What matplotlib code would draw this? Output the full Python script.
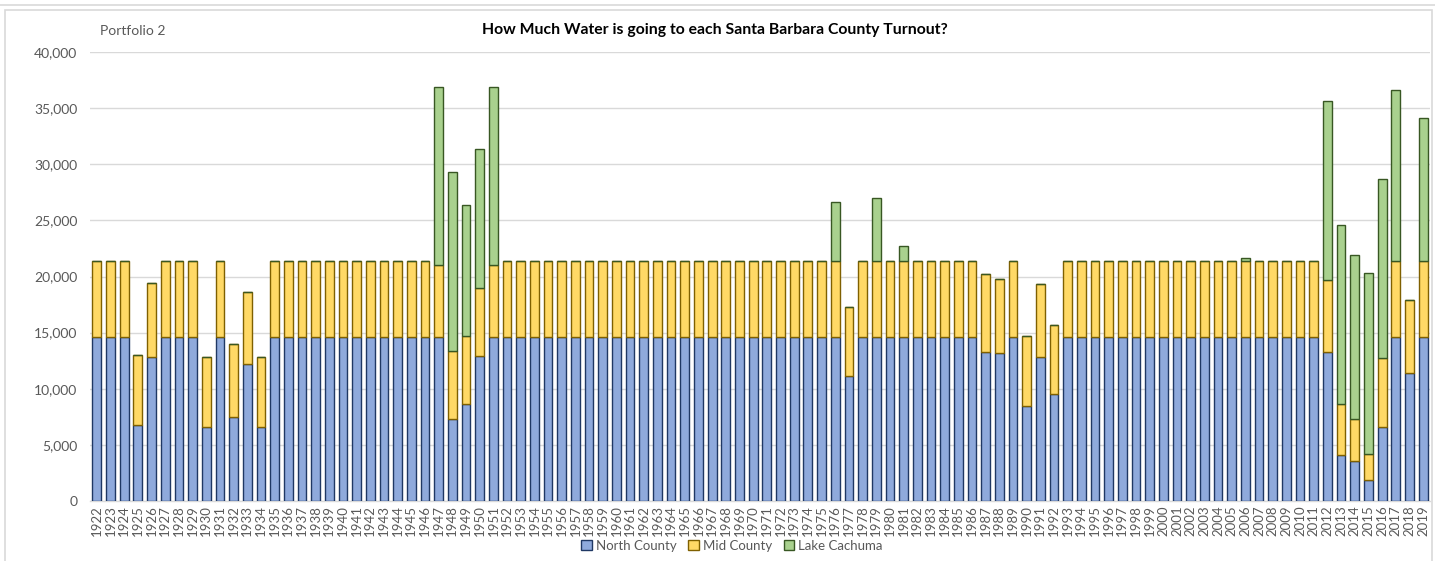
import numpy as np
import matplotlib
matplotlib.use("Agg")
import matplotlib.pyplot as plt
from matplotlib.patches import Patch, Rectangle
from matplotlib.ticker import FuncFormatter

# Water deliveries per turnout, 1922-2019
years = [str(y) for y in range(1922, 2020)]

north_county = [
    14600, 14600, 14600, 6800, 12800, 14600, 14600, 14600, 6600, 14600,   # 1922-1931
    7500, 12200, 6600, 14600, 14600, 14600, 14600, 14600, 14600, 14600,   # 1932-1941
    14600, 14600, 14600, 14600, 14600, 14600, 7300, 8600, 12900, 14600,   # 1942-1951
    14600, 14600, 14600, 14600, 14600, 14600, 14600, 14600, 14600, 14600, # 1952-1961
    14600, 14600, 14600, 14600, 14600, 14600, 14600, 14600, 14600, 14600, # 1962-1971
    14600, 14600, 14600, 14600, 14600, 11100, 14600, 14600, 14600, 14600, # 1972-1981
    14600, 14600, 14600, 14600, 14600, 13300, 13200, 14600, 8500, 12800,  # 1982-1991
    9500, 14600, 14600, 14600, 14600, 14600, 14600, 14600, 14600, 14600,  # 1992-2001
    14600, 14600, 14600, 14600, 14600, 14600, 14600, 14600, 14600, 14600, # 2002-2011
    13300, 4100, 3600, 1900, 6600, 14600, 11400, 14600,                   # 2012-2019
]

mid_county = [
    6800, 6800, 6800, 6200, 6600, 6800, 6800, 6800, 6200, 6800,
    6500, 6400, 6200, 6800, 6800, 6800, 6800, 6800, 6800, 6800,
    6800, 6800, 6800, 6800, 6800, 6400, 6100, 6100, 6100, 6400,
    6800, 6800, 6800, 6800, 6800, 6800, 6800, 6800, 6800, 6800,
    6800, 6800, 6800, 6800, 6800, 6800, 6800, 6800, 6800, 6800,
    6800, 6800, 6800, 6800, 6800, 6200, 6800, 6800, 6800, 6800,
    6800, 6800, 6800, 6800, 6800, 6900, 6600, 6800, 6200, 6500,
    6200, 6800, 6800, 6800, 6800, 6800, 6800, 6800, 6800, 6800,
    6800, 6800, 6800, 6800, 6800, 6800, 6800, 6800, 6800, 6800,
    6400, 4500, 3700, 2300, 6100, 6800, 6500, 6800,
]

lake_cachuma = [
    0, 0, 0, 0, 0, 0, 0, 0, 0, 0,
    0, 0, 0, 0, 0, 0, 0, 0, 0, 0,
    0, 0, 0, 0, 0, 15900, 15900, 11700, 12400, 15900,
    0, 0, 0, 0, 0, 0, 0, 0, 0, 0,
    0, 0, 0, 0, 0, 0, 0, 0, 0, 0,
    0, 0, 0, 0, 5200, 0, 0, 5600, 0, 1300,
    0, 0, 0, 0, 0, 0, 0, 0, 0, 0,
    0, 0, 0, 0, 0, 0, 0, 0, 0, 0,
    0, 0, 0, 0, 250, 0, 0, 0, 0, 0,
    15900, 16000, 14600, 16100, 16000, 15200, 0, 12700,
]

series = [
    ("North County", north_county, "#8FAADC", "#1F3864"),
    ("Mid County", mid_county, "#FFD966", "#7F6000"),
    ("Lake Cachuma", lake_cachuma, "#A9D18E", "#385723"),
]

plt.rcParams['font.family'] = ['Lato', 'DejaVu Sans']
tick_gray = "#595959"
grid_gray = "#D9D9D9"

fig = plt.figure(figsize=(14.35, 5.61), dpi=100)
ax = fig.add_axes([90 / 1435, 1 - 501 / 561, 1340 / 1435, 449 / 561])

x = np.arange(len(years))
bottom = np.zeros(len(years))
for name, vals, fc, ec in series:
    vals = np.array(vals, dtype=float)
    ax.bar(x, vals, width=0.64, bottom=bottom, color=fc, edgecolor=ec,
           linewidth=1.0, label=name, zorder=3)
    bottom += vals

ax.set_xlim(-0.5, len(years) - 0.5)
ax.set_ylim(0, 40000)
ax.set_yticks(np.arange(0, 40001, 5000))
ax.yaxis.set_major_formatter(FuncFormatter(lambda v, p: f"{int(v):,}"))
ax.set_xticks(x)
ax.set_xticklabels(years, rotation=90, fontsize=9.5, color=tick_gray)
ax.tick_params(axis='y', labelsize=10, colors=tick_gray, length=0, pad=9)
ax.tick_params(axis='x', length=0, pad=3)
ax.grid(axis='y', color=grid_gray, linewidth=1.0, zorder=0)
for side in ['top', 'right', 'left']:
    ax.spines[side].set_visible(False)
ax.spines['bottom'].set_color(grid_gray)
ax.spines['bottom'].set_linewidth(1.0)

fig.text(715 / 1435, 1 - 30 / 561,
         "How Much Water is going to each Santa Barbara County Turnout?",
         ha='center', va='center', fontsize=11.3, fontweight='bold', color='black')
fig.text(100 / 1435, 1 - 31 / 561, "Portfolio 2", ha='left', va='center',
         fontsize=10, color=tick_gray)

handles = [Patch(facecolor=fc, edgecolor=ec, label=name) for name, _, fc, ec in series]
fig.legend(handles=handles, loc='center', bbox_to_anchor=(732 / 1435, 1 - 546 / 561),
           ncol=3, frameon=False, fontsize=9.5, handlelength=0.8, handleheight=0.8,
           handletextpad=0.3, columnspacing=0.9, labelcolor=tick_gray)

# outer chart frame
fig.patches.append(Rectangle((5 / 1435, -0.01), 1427 / 1435, 1 - 10 / 561 + 0.01,
                             transform=fig.transFigure, fill=False,
                             edgecolor=grid_gray, linewidth=1.2))
fig.lines.append(plt.Line2D([0, 1], [1 - 5 / 561, 1 - 5 / 561],
                            transform=fig.transFigure, color=grid_gray, linewidth=1.2))

fig.savefig("out.png", dpi=100)
